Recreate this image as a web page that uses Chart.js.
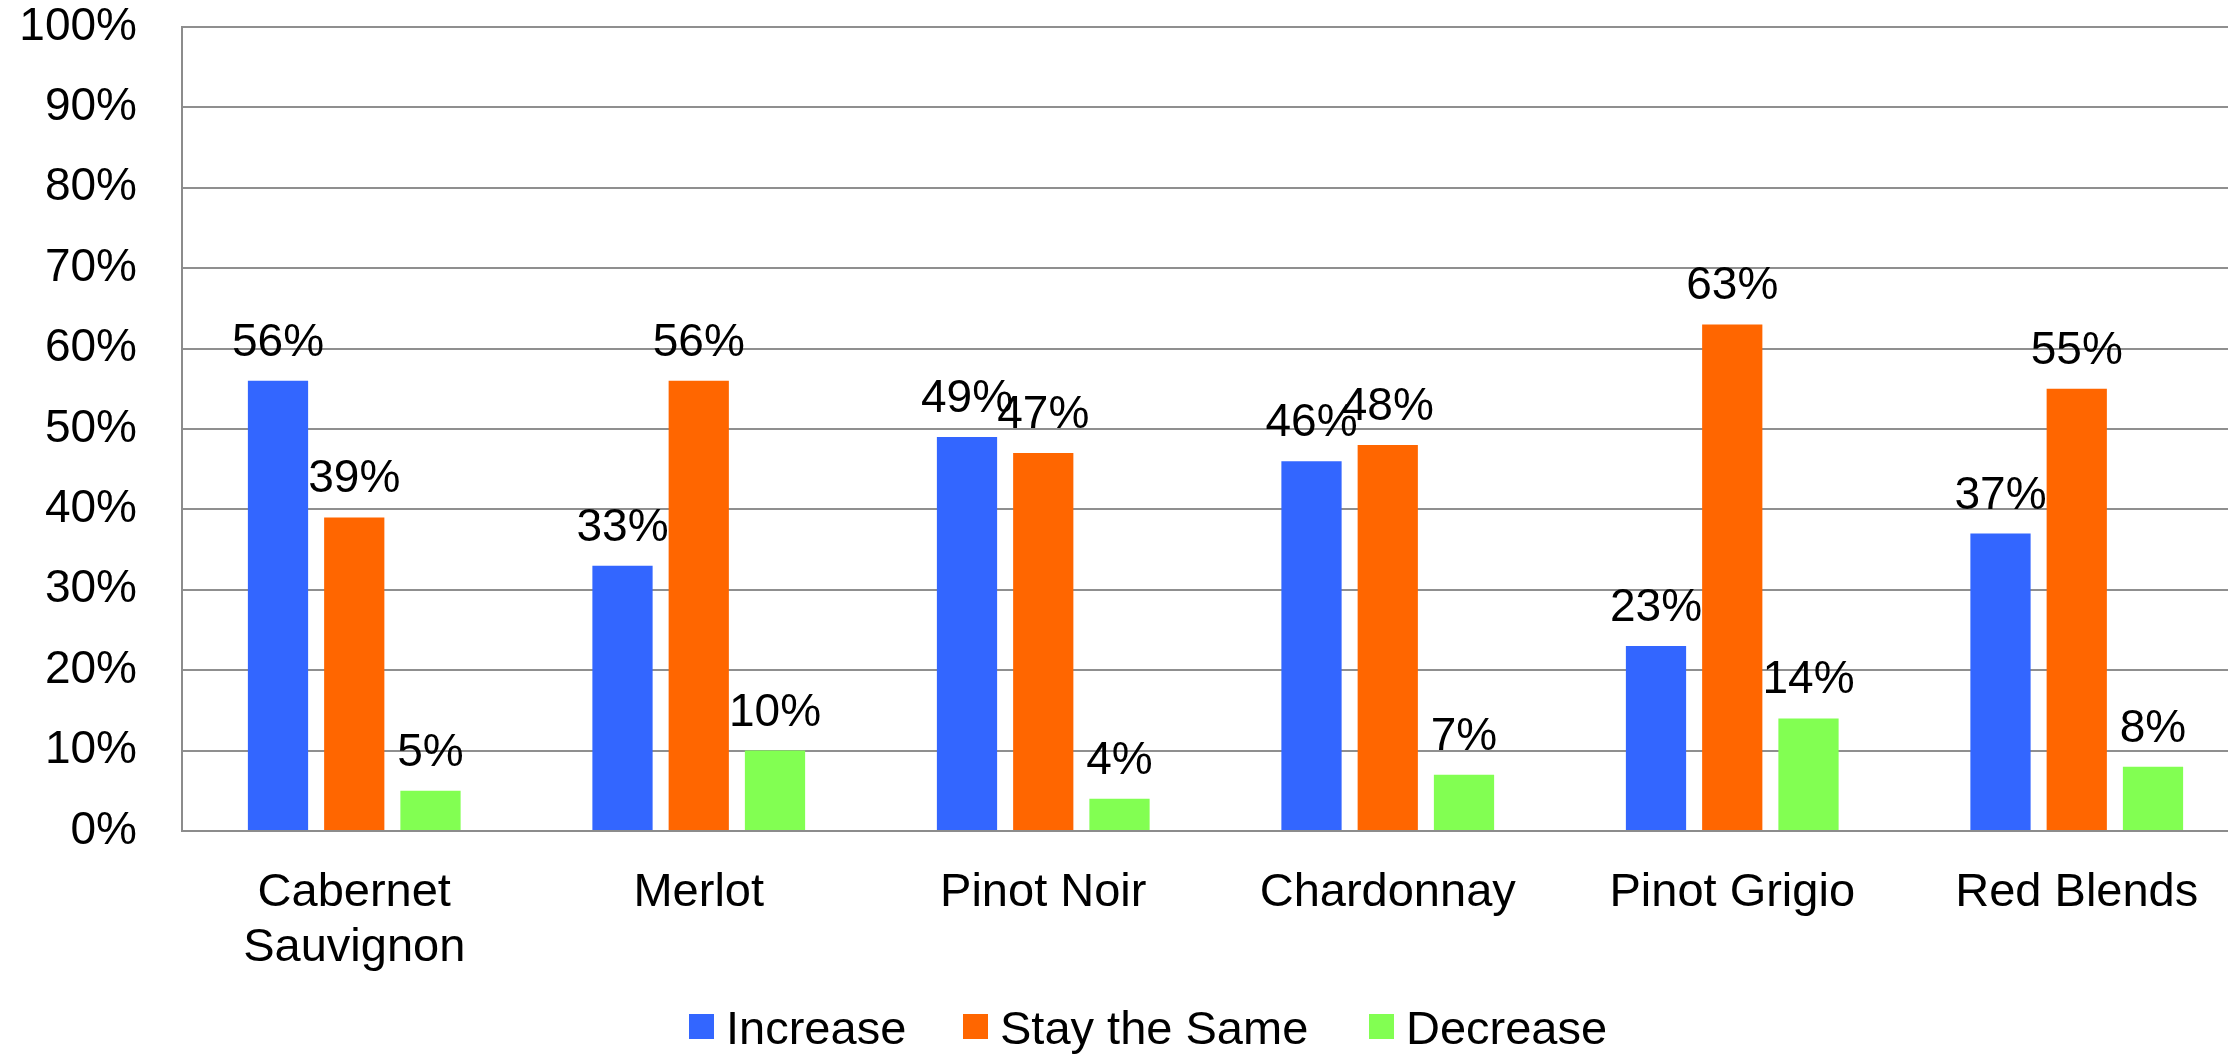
<!DOCTYPE html>
<html>
<head>
<meta charset="utf-8">
<script src="https://cdn.jsdelivr.net/npm/chart.js@4.4.1/dist/chart.umd.min.js"></script>
<style>
  html, body { margin: 0; padding: 0; background: #ffffff; overflow: hidden; }
  #wrap { position: relative; width: 2260px; height: 1055px; }
  #chart { position: absolute; left: 0; top: 0; }
  .leg { position: absolute; top: 1005px; height: 46px; display: flex; align-items: center;
         font-family: "Liberation Sans", Arial, sans-serif; font-size: 47px; line-height: 46px; color: #000; white-space: nowrap; }
  .leg i { display: inline-block; width: 25px; height: 25px; margin-right: 12px; margin-top: -3px; }
</style>
</head>
<body>
<div id="wrap">
  <canvas id="chart" width="2260" height="1055"></canvas>
  <div class="leg" style="left:689px"><i style="background:#3366FF"></i>Increase</div>
  <div class="leg" style="left:963px"><i style="background:#FF6600"></i>Stay the Same</div>
  <div class="leg" style="left:1369px"><i style="background:#82FF52"></i>Decrease</div>
</div>
<script>
// Wine varietals and the share of respondents for each expected change
const categories = [["Cabernet", "Sauvignon"], "Merlot", "Pinot Noir", "Chardonnay", "Pinot Grigio", "Red Blends"];
const increase   = [56, 33, 49, 46, 23, 37];
const staySame   = [39, 56, 47, 48, 63, 55];
const decrease   = [5, 10, 4, 7, 14, 8];
const seriesNames = ["Increase", "Stay the Same", "Decrease"];
const seriesColors = ["#3366FF", "#FF6600", "#82FF52"];
const yTicks = [0, 10, 20, 30, 40, 50, 60, 70, 80, 90, 100];

const FONT = '"Liberation Sans", Arial, sans-serif';
const PLOT_LEFT = 182;
const PLOT_BOTTOM = 831;
const CANVAS_H = 1055;

// Percentage written above every bar
const valueLabels = {
  id: 'valueLabels',
  afterDatasetsDraw(chart) {
    const ctx = chart.ctx;
    ctx.save();
    ctx.font = '46px ' + FONT;
    ctx.fillStyle = '#000';
    ctx.textAlign = 'center';
    ctx.textBaseline = 'alphabetic';
    chart.data.datasets.forEach((ds, i) => {
      const meta = chart.getDatasetMeta(i);
      meta.data.forEach((bar, j) => {
        ctx.fillText(ds.data[j] + '%', bar.x, bar.y - 25);
      });
    });
    ctx.restore();
  }
};

const seriesData = [increase, staySame, decrease];

new Chart(document.getElementById('chart'), {
  type: 'bar',
  data: {
    labels: categories,
    datasets: seriesNames.map((name, i) => ({
      label: name,
      data: seriesData[i],
      backgroundColor: seriesColors[i],
      borderWidth: 0,
      categoryPercentage: 0.664,
      barPercentage: 0.79
    }))
  },
  options: {
    responsive: false,
    devicePixelRatio: 1,
    animation: false,
    layout: { padding: { top: 27, right: 11, left: 0, bottom: 0 } },
    plugins: {
      legend: { display: false },
      tooltip: { enabled: false }
    },
    scales: {
      x: {
        grid: { display: false, drawTicks: false },
        border: { display: true, color: '#8c8c8c', width: 2 },
        ticks: {
          color: '#000',
          font: { family: FONT, size: 47, lineHeight: 1.17 },
          padding: 35,
          maxRotation: 0,
          autoSkip: false
        },
        afterFit(scale) { scale.height = CANVAS_H - PLOT_BOTTOM; }
      },
      y: {
        min: 0,
        max: 100,
        afterBuildTicks(scale) { scale.ticks = yTicks.map(v => ({ value: v })); },
        grid: { color: '#8f8f8f', lineWidth: 2, drawTicks: false },
        border: { display: true, color: '#8c8c8c', width: 2 },
        ticks: {
          color: '#000',
          font: { family: FONT, size: 46 },
          padding: 45,
          callback: v => v + '%'
        },
        afterFit(scale) {
          scale.width = PLOT_LEFT;
          scale.paddingTop = 0;
          scale.paddingBottom = 0;
        }
      }
    }
  },
  plugins: [valueLabels]
});
</script>
</body>
</html>
